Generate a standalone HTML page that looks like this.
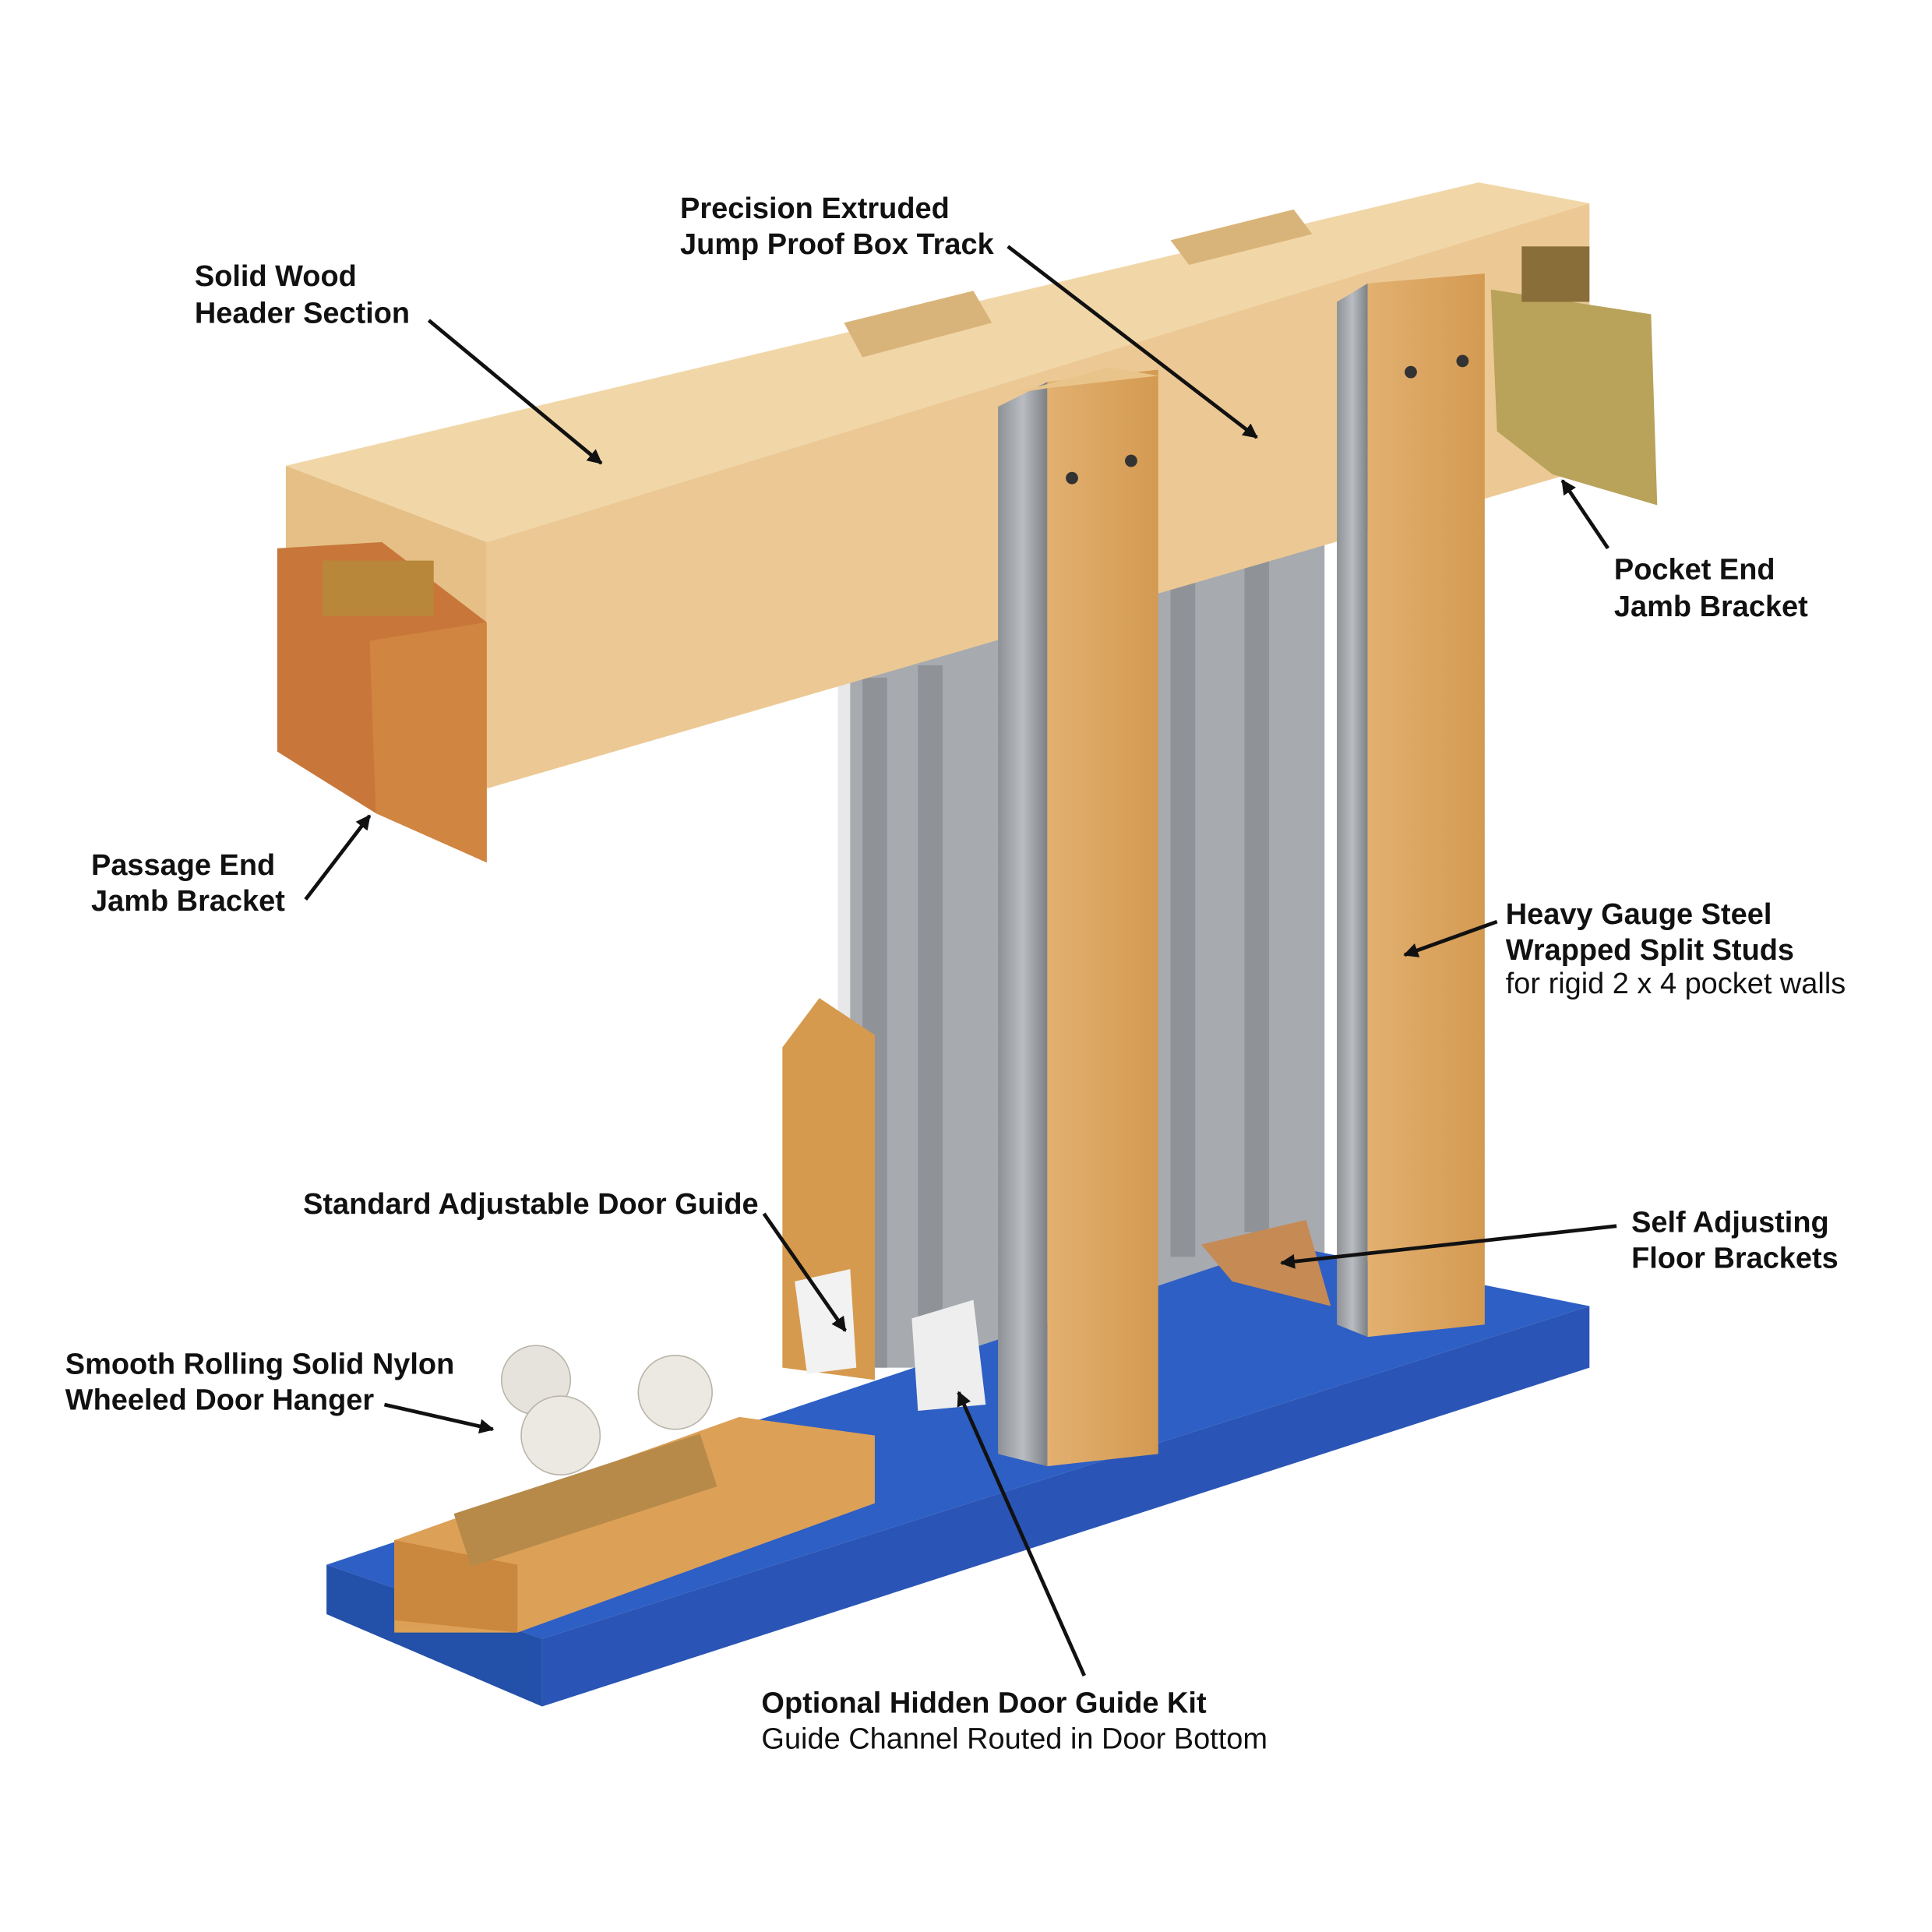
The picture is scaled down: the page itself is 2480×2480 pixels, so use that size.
<!DOCTYPE html>
<html><head><meta charset="utf-8">
<style>
html,body{margin:0;padding:0;background:#fff;}
svg{display:block;}
text{font-family:"Liberation Sans",sans-serif;fill:#111;}
.b{font-weight:bold;font-size:24px;}
.n{font-size:24px;}
</style></head>
<body>
<svg width="2480" height="2480" viewBox="0 0 1568 1568" xmlns="http://www.w3.org/2000/svg">
<defs>
<marker id="ah" markerWidth="12" markerHeight="12" refX="9" refY="5" orient="auto" markerUnits="userSpaceOnUse" viewBox="0 0 10 10">
<path d="M0,0 L10,5 L0,10 z" fill="#111"/></marker>
<linearGradient id="steel" x1="0" x2="1"><stop offset="0" stop-color="#8e9296"/><stop offset="0.5" stop-color="#b9bcc0"/><stop offset="1" stop-color="#7d8186"/></linearGradient>
<linearGradient id="wood" x1="0" x2="1"><stop offset="0" stop-color="#e2b070"/><stop offset="1" stop-color="#d49a52"/></linearGradient>
</defs>
<rect width="1568" height="1568" fill="#fff"/>

<!-- steel panels behind -->
<rect x="680" y="370" width="395" height="740" fill="#a7abb0"/>
<g fill="#8f9398">
<rect x="700" y="550" width="20" height="560"/><rect x="745" y="540" width="20" height="570"/>
<rect x="950" y="420" width="20" height="600"/><rect x="1010" y="400" width="20" height="600"/>
</g>
<rect x="680" y="550" width="10" height="560" fill="#e8e8ea"/>
<polygon points="940,340 1085,300 1085,410 940,440" fill="#c9cccf"/>

<!-- header beam -->
<polygon points="232,378 1200,148 1290,165 395,440" fill="#f1d7a8"/>
<polygon points="395,440 1290,165 1290,380 395,640" fill="#ecc994"/>
<polygon points="232,378 395,440 395,640 232,580" fill="#e5bf86"/>
<polygon points="685,262 790,236 805,262 700,290" fill="#d9b47a"/>
<polygon points="950,195 1050,170 1065,190 965,215" fill="#d9b47a"/>

<!-- left bracket -->
<polygon points="225,445 310,440 395,505 395,700 305,660 225,610" fill="#c9763a"/>
<polygon points="300,520 395,505 395,700 305,660" fill="#d08540"/>
<rect x="262" y="455" width="90" height="45" fill="#b8873a"/>

<!-- right bracket -->
<polygon points="1210,235 1340,255 1345,410 1260,385 1215,350" fill="#b9a25a"/>
<rect x="1235" y="200" width="55" height="45" fill="#8a6e3a"/>

<!-- blue base -->
<polygon points="265,1270 1040,1010 1290,1060 440,1330" fill="#2e5fc4"/>
<polygon points="440,1330 1290,1060 1290,1110 440,1385" fill="#2a55b6"/>
<polygon points="265,1270 440,1330 440,1385 265,1310" fill="#2350a8"/>

<!-- floor bracket -->
<polygon points="975,1010 1060,990 1080,1060 1000,1040" fill="#c68a55"/>

<!-- front stud -->
<polygon points="810,330 850,310 850,1190 810,1180" fill="url(#steel)"/>
<polygon points="850,310 940,300 940,1180 850,1190" fill="url(#wood)"/>
<polygon points="820,320 900,298 940,305 850,315" fill="#e9c48a"/>
<circle cx="870" cy="388" r="5" fill="#333"/><circle cx="918" cy="374" r="5" fill="#333"/>

<!-- right stud -->
<polygon points="1085,245 1110,230 1110,1085 1085,1075" fill="url(#steel)"/>
<polygon points="1110,230 1205,222 1205,1075 1110,1085" fill="url(#wood)"/>
<circle cx="1145" cy="302" r="5" fill="#333"/><circle cx="1187" cy="293" r="5" fill="#333"/>

<!-- door guide -->
<polygon points="635,850 665,810 710,840 710,1120 635,1110" fill="#d69a4e"/>
<polygon points="645,1040 690,1030 695,1110 655,1115" fill="#f2f2f2"/>
<polygon points="740,1070 790,1055 800,1140 745,1145" fill="#eeeeee"/>

<!-- hanger wood block -->
<polygon points="320,1250 600,1150 710,1165 710,1220 420,1325 320,1325" fill="#dca056"/>
<polygon points="320,1250 420,1270 420,1325 320,1315" fill="#c9883e"/>
<rect x="370" y="1195" width="210" height="45" fill="#b78a4a" transform="rotate(-18 475 1217)"/>
<circle cx="435" cy="1120" r="28" fill="#e6e3dc" stroke="#b9b4a9"/>
<circle cx="548" cy="1130" r="30" fill="#ece9e2" stroke="#b9b4a9"/>
<circle cx="455" cy="1165" r="32" fill="#ece9e2" stroke="#b9b4a9"/>

<!-- labels -->
<text class="b" x="158" y="232">Solid Wood</text>
<text class="b" x="158" y="262">Header Section</text>
<line x1="348" y1="260" x2="488" y2="376" stroke="#111" stroke-width="3" marker-end="url(#ah)"/>

<text class="b" x="552" y="177">Precision Extruded</text>
<text class="b" x="552" y="206">Jump Proof Box Track</text>
<line x1="818" y1="200" x2="1020" y2="355" stroke="#111" stroke-width="3" marker-end="url(#ah)"/>

<text class="b" x="1310" y="470">Pocket End</text>
<text class="b" x="1310" y="500">Jamb Bracket</text>
<line x1="1305" y1="445" x2="1268" y2="390" stroke="#111" stroke-width="3" marker-end="url(#ah)"/>

<text class="b" x="74" y="710">Passage End</text>
<text class="b" x="74" y="739">Jamb Bracket</text>
<line x1="248" y1="730" x2="300" y2="662" stroke="#111" stroke-width="3" marker-end="url(#ah)"/>

<text class="b" x="1222" y="750">Heavy Gauge Steel</text>
<text class="b" x="1222" y="779">Wrapped Split Studs</text>
<text class="n" x="1222" y="806">for rigid 2 x 4 pocket walls</text>
<line x1="1215" y1="748" x2="1140" y2="775" stroke="#111" stroke-width="3" marker-end="url(#ah)"/>

<text class="b" x="246" y="985">Standard Adjustable Door Guide</text>
<line x1="620" y1="985" x2="686" y2="1080" stroke="#111" stroke-width="3" marker-end="url(#ah)"/>

<text class="b" x="1324" y="1000">Self Adjusting</text>
<text class="b" x="1324" y="1029">Floor Brackets</text>
<line x1="1312" y1="995" x2="1040" y2="1025" stroke="#111" stroke-width="3" marker-end="url(#ah)"/>

<text class="b" x="53" y="1115">Smooth Rolling Solid Nylon</text>
<text class="b" x="53" y="1144">Wheeled Door Hanger</text>
<line x1="312" y1="1140" x2="400" y2="1160" stroke="#111" stroke-width="3" marker-end="url(#ah)"/>

<text class="b" x="618" y="1390">Optional Hidden Door Guide Kit</text>
<text class="n" x="618" y="1419">Guide Channel Routed in Door Bottom</text>
<line x1="880" y1="1360" x2="778" y2="1130" stroke="#111" stroke-width="3" marker-end="url(#ah)"/>
</svg>
</body></html>
